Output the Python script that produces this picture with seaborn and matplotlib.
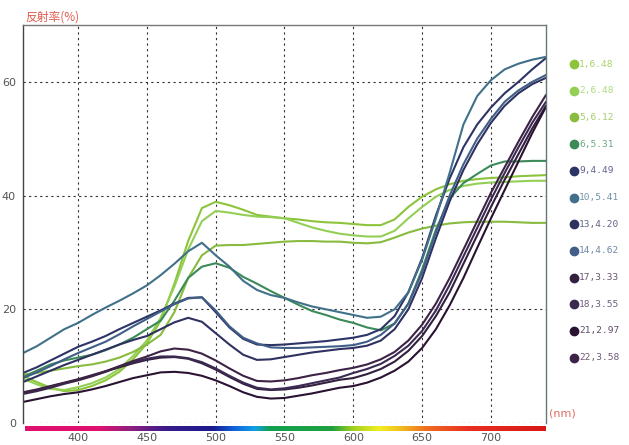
import matplotlib
matplotlib.use("Agg")
import matplotlib.pyplot as plt
from matplotlib.colors import LinearSegmentedColormap
from matplotlib.lines import Line2D
import seaborn as sns
import pandas as pd
import numpy as np

# wavelength grid (nm)
wavelength = list(range(360, 750, 10))

labels = ["1,6.48", "2,6.48", "5,6.12", "6,5.31", "9,4.49", "10,5.41",
          "13,4.20", "14,4.62", "17,3.33", "18,3.55", "21,2.97", "22,3.58"]

colors = ["#8cc43c", "#93cf55", "#88bb3e", "#3b8a58", "#2d3466", "#41708a",
          "#2f3160", "#415e88", "#33203f", "#3b2a52", "#2a1232", "#3d2346"]

s1 = [8.3, 7.2, 6.2, 5.6, 5.8, 6.5, 7.5, 9.0, 11.2, 14.0, 18.0, 24.5, 32.0, 37.8, 38.9,
      38.3, 37.5, 36.6, 36.3, 36.0, 35.8, 35.5, 35.3, 35.2, 35.0, 34.8, 34.8, 35.8, 38.0,
      39.8, 41.1, 42.0, 42.6, 42.9, 43.1, 43.2, 43.4, 43.5, 43.6]
s2 = [7.8, 6.8, 6.0, 5.8, 6.3, 7.0, 8.0, 9.5, 11.8, 14.5, 18.5, 24.0, 30.5, 35.5, 37.3,
      37.0, 36.6, 36.3, 36.2, 36.0, 35.2, 34.4, 33.8, 33.3, 33.0, 32.8, 32.8, 33.8, 36.0,
      38.0, 39.8, 41.0, 41.7, 42.1, 42.3, 42.4, 42.5, 42.6, 42.6]
s5 = [8.5, 8.8, 9.2, 9.6, 10.0, 10.3, 10.8, 11.5, 12.5, 13.8, 15.5, 19.5, 25.5, 29.5, 31.2,
      31.3, 31.3, 31.5, 31.7, 31.9, 32.0, 32.0, 31.9, 31.9, 31.7, 31.6, 31.8, 32.6, 33.5,
      34.2, 34.7, 35.1, 35.3, 35.4, 35.4, 35.4, 35.3, 35.2, 35.2]
s6 = [8.1, 9.2, 10.3, 11.0, 11.5, 12.0, 12.8, 13.8, 15.0, 16.5, 18.0, 21.5, 25.5, 27.5, 28.1,
      27.3, 25.7, 24.5, 23.2, 22.0, 20.8, 19.7, 19.0, 18.2, 17.6, 16.8, 16.3, 17.5, 21.0,
      27.0, 34.0, 39.5, 42.2, 43.8, 45.3, 46.0, 46.0, 46.1, 46.1]
s9 = [8.8, 9.8, 11.0, 12.2, 13.4, 14.3, 15.3, 16.5, 17.6, 18.7, 19.8, 21.0, 22.0, 22.1, 19.5,
      16.8, 14.8, 13.8, 13.7, 13.8, 14.0, 14.2, 14.4, 14.7, 15.0, 15.5, 16.5, 18.8, 23.0,
      29.0, 36.5, 43.0, 48.5, 52.5, 55.5, 58.0, 60.0, 62.2, 64.2]
s10 = [12.3, 13.5, 15.0, 16.5, 17.6, 19.0, 20.3, 21.5, 22.8, 24.2, 26.0, 28.0, 30.2, 31.7, 29.5,
       27.5, 25.0, 23.4, 22.5, 22.0, 21.2, 20.5, 20.0, 19.5, 19.0, 18.5, 18.7, 20.0, 23.0,
       28.7, 36.0, 44.0, 52.5, 57.5, 60.3, 62.2, 63.2, 63.9, 64.4]
s13 = [7.2, 8.2, 9.2, 10.2, 11.1, 12.0, 12.9, 13.8, 14.6, 15.3, 16.5, 17.7, 18.5, 17.8, 15.8,
       13.8, 12.0, 11.1, 11.2, 11.6, 12.0, 12.4, 12.7, 13.0, 13.2, 13.6, 14.5, 16.5, 20.0,
       25.5, 32.5, 39.0, 44.5, 49.0, 52.8, 55.8, 58.0, 59.6, 60.7]
s14 = [7.9, 8.9, 10.0, 11.2, 12.3, 13.3, 14.3, 15.6, 17.0, 18.3, 19.6, 20.9, 21.9, 22.1, 19.8,
       17.0, 15.0, 14.0, 13.3, 13.2, 13.2, 13.3, 13.4, 13.5, 13.7, 14.3, 15.5, 17.5, 21.0,
       26.5, 33.5, 40.0, 45.5, 50.0, 53.5, 56.5, 58.5, 60.0, 61.2]
s17 = [5.4, 5.9, 6.5, 7.1, 7.7, 8.4, 9.1, 9.8, 10.5, 11.1, 11.5, 11.6, 11.3, 10.5, 9.4,
       8.1, 6.9, 6.0, 5.8, 5.9, 6.2, 6.6, 7.1, 7.6, 7.9, 8.6, 9.5, 10.8, 12.7,
       15.3, 18.8, 23.0, 28.0, 33.0, 38.0, 42.8, 47.3, 51.8, 55.8]
s18 = [5.1, 5.6, 6.2, 6.9, 7.5, 8.2, 9.0, 9.9, 10.7, 11.3, 11.7, 11.7, 11.4, 10.7, 9.6,
       8.3, 7.1, 6.2, 5.9, 6.1, 6.5, 7.0, 7.5, 8.0, 8.8, 9.5, 10.4, 11.8, 13.6,
       16.2, 19.8, 24.3, 29.3, 34.3, 39.3, 44.0, 48.5, 52.8, 56.5]
s21 = [3.7, 4.2, 4.7, 5.1, 5.4, 5.9, 6.5, 7.2, 7.9, 8.4, 8.9, 9.0, 8.8, 8.3, 7.5,
       6.5, 5.4, 4.6, 4.3, 4.4, 4.8, 5.2, 5.7, 6.2, 6.5, 7.1, 8.0, 9.2, 10.8,
       13.2, 16.5, 20.7, 25.5, 30.8, 36.0, 41.0, 46.0, 51.0, 55.6]
s22 = [5.3, 5.8, 6.4, 7.0, 7.6, 8.3, 9.1, 10.0, 10.9, 11.7, 12.6, 13.1, 12.9, 12.2, 11.0,
       9.6, 8.3, 7.4, 7.3, 7.5, 7.9, 8.4, 8.8, 9.3, 9.7, 10.3, 11.2, 12.5, 14.5,
       17.3, 21.0, 25.5, 30.5, 35.5, 40.5, 45.0, 49.5, 53.8, 57.7]

series = [s1, s2, s5, s6, s9, s10, s13, s14, s17, s18, s21, s22]

df = pd.concat([pd.DataFrame({"nm": wavelength, "refl": v, "sample": lab})
                for lab, v in zip(labels, series)], ignore_index=True)

sns.set_style("white")
fig = plt.figure(figsize=(6.29, 4.45), dpi=100)
ax = fig.add_axes([23 / 629, 1 - 423 / 445, 523 / 629, 398 / 445])

sns.lineplot(data=df, x="nm", y="refl", hue="sample", hue_order=labels,
             palette=colors, linewidth=1.5, legend=False, ax=ax)

ax.set_xlim(360, 740)
ax.set_ylim(0, 70)
ax.set_xticks([400, 450, 500, 550, 600, 650, 700])
ax.set_yticks([0, 20, 40, 60])
ax.grid(True, color="#333333", linestyle=(0, (2, 3)), linewidth=0.8)
ax.set_axisbelow(True)
ax.tick_params(length=0, labelsize=8, labelcolor="#555555")
ax.tick_params(axis="x", pad=7)
ax.tick_params(axis="y", pad=5)
ax.set_xlabel("")
ax.set_ylabel("")
ax.spines["bottom"].set_visible(False)
ax.spines["left"].set_color("#444444")
ax.spines["top"].set_color("#777777")
ax.spines["right"].set_color("#667777")
for s in ["left", "top", "right"]:
    ax.spines[s].set_linewidth(1.0)

# spectrum strip under the axis
spec = LinearSegmentedColormap.from_list("spec", [
    (0.00, "#e0106e"), (0.14, "#e01070"), (0.20, "#902080"), (0.27, "#3a1a8a"),
    (0.36, "#1a1a8e"), (0.40, "#1060d8"), (0.44, "#10a0e8"), (0.47, "#10a050"),
    (0.59, "#20a040"), (0.63, "#a0d020"), (0.68, "#f0f020"), (0.72, "#f0c020"),
    (0.77, "#f07020"), (0.85, "#e83020"), (1.00, "#d81818")])
bax = fig.add_axes([25 / 629, 1 - 431 / 445, 521 / 629, 5 / 445])
bax.imshow(np.linspace(0, 1, 256)[None, :], aspect="auto", cmap=spec)
bax.axis("off")

cjk = ["Noto Sans CJK JP", "DejaVu Sans"]
fig.text(25 / 629, 1 - 17 / 445, "反射率(%)", color="#e05a50", fontsize=8.5,
         family=cjk, va="center", ha="left")
fig.text(549 / 629, 1 - 413 / 445, "(nm)", color="#e06a60", fontsize=8,
         va="center", ha="left")

# legend at the right
for i, (lab, c) in enumerate(zip(labels, colors)):
    yy = 1 - (64 + i * 26.7) / 445
    fig.add_artist(Line2D([574 / 629], [yy], marker="o", markersize=6,
                          color=c, transform=fig.transFigure))
    fig.text(579 / 629, yy, lab, color=c, fontsize=6.8, family="DejaVu Sans Mono",
             va="center", ha="left", alpha=0.75)

fig.savefig("out.png", dpi=100)
